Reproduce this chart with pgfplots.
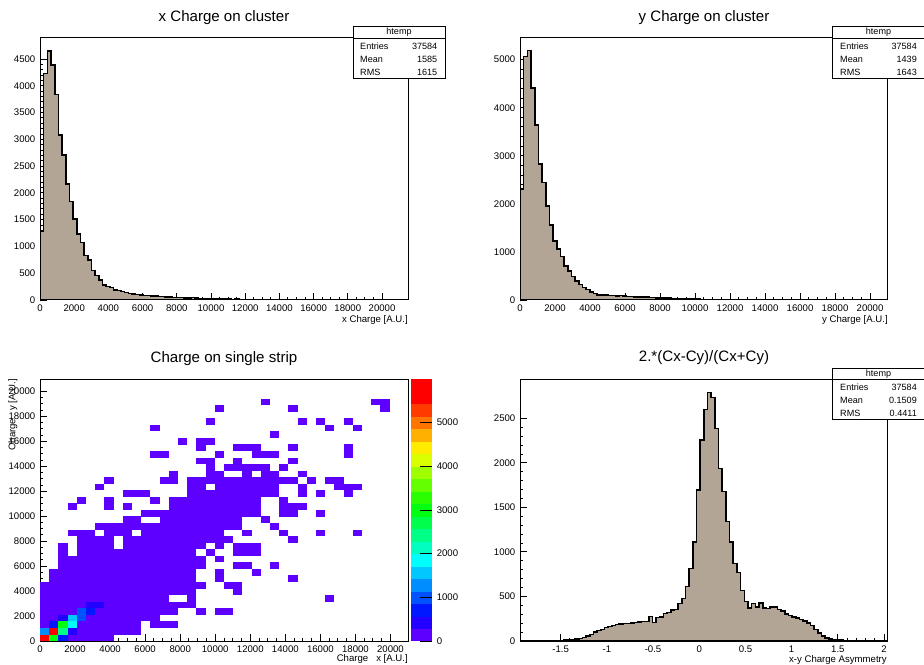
\documentclass[border=0pt]{standalone}
\usepackage{fontspec}
\setmainfont{Liberation Sans}
\usepackage{pgfplots}
\pgfplotsset{compat=1.18}
\definecolor{histfill}{RGB}{179,165,149}
\pgfdeclareplotmark{cell}{\pgfpathrectangle{\pgfqpoint{-3.5pt}{-2.5pt}}{\pgfqpoint{7pt}{5pt}}\pgfusepathqfill}
\newcommand{\tl}{\fontsize{7.2}{8.5}\selectfont}
\newcommand{\st}{\fontsize{6.8}{8}\selectfont}
\newcommand{\ttl}{\fontsize{11.3}{13}\selectfont}
\pgfplotsset{
  colormap={rootpal}{rgb255=(94,0,255) rgb255=(35,0,255) rgb255=(0,24,255) rgb255=(0,82,255) rgb255=(0,141,255) rgb255=(0,200,255) rgb255=(0,255,252) rgb255=(0,255,193) rgb255=(0,255,134) rgb255=(0,255,76) rgb255=(0,255,17) rgb255=(41,255,0) rgb255=(100,255,0) rgb255=(159,255,0) rgb255=(217,255,0) rgb255=(255,235,0) rgb255=(255,176,0) rgb255=(255,117,0) rgb255=(255,59,0) rgb255=(255,0,0) rgb255=(255,0,0)},
  rootaxis/.style={
    scale only axis, anchor=south west,
    axis line style={line width=0.75pt},
    tick align=inside, xtick pos=bottom, ytick pos=left,
    major tick length=5pt, minor tick length=2.5pt,
    tick style={black, line width=0.7pt},
    tick label style={font=\tl},
    /pgf/number format/assume math mode=true,
    /pgf/number format/1000 sep={},
    scaled ticks=false,
  },
  histo/.style={const plot, fill=histfill, draw=black, line width=1.2pt},
}
\begin{document}
\begin{tikzpicture}
\path[use as bounding box] (0,0) rectangle (693pt,498pt);

% ---------- panel 1 : x charge
\begin{axis}[rootaxis, at={(30pt,273pt)}, width=276pt, height=196.5pt,
  xmin=0, xmax=21520, ymin=0, ymax=4892,
  xtick={0,2000,...,20000}, ytick={0,500,...,4500},
  minor x tick num=3, minor y tick num=4]
\addplot[histo] table[row sep=\\, x expr=\thisrow{k}*215.2, y=c] {k c\\0 1276\\1 4232\\2 4649\\3 4388\\4 3840\\5 3081\\6 2707\\7 2166\\8 1842\\9 1512\\10 1232\\11 1077\\12 828\\13 747\\14 548\\15 454\\16 373\\17 280\\18 249\\19 230\\20 187\\21 175\\22 156\\23 137\\24 124\\25 112\\26 106\\27 93\\28 87\\29 81\\30 78\\31 72\\32 66\\33 62\\34 58\\35 54\\36 50\\37 47\\38 44\\39 40\\40 38\\41 45\\42 33\\43 30\\44 28\\45 25\\46 23\\47 21\\48 19\\49 24\\50 16\\51 15\\52 13\\53 18\\54 11\\55 10\\56 9\\57 8\\58 7\\59 6\\60 5\\61 5\\62 4\\63 4\\64 3\\65 3\\66 2\\67 2\\68 2\\69 1\\70 1\\71 0\\100 0\\} \closedcycle;
\end{axis}

% ---------- panel 2 : y charge
\begin{axis}[rootaxis, at={(390pt,273pt)}, width=275.8pt, height=196.5pt,
  xmin=0, xmax=21010, ymin=0, ymax=5450,
  xtick={0,2000,...,20000}, ytick={0,1000,...,5000},
  minor x tick num=3, minor y tick num=4]
\addplot[histo] table[row sep=\\, x expr=\thisrow{k}*210.1, y=c] {k c\\0 2306\\1 5069\\2 5188\\3 4410\\4 3639\\5 2826\\6 2444\\7 1958\\8 1556\\9 1229\\10 1056\\11 903\\12 708\\13 604\\14 486\\15 396\\16 326\\17 257\\18 222\\19 167\\20 139\\21 110\\22 104\\23 100\\24 92\\25 90\\26 88\\27 90\\28 85\\29 72\\30 70\\31 68\\32 66\\33 65\\34 62\\35 50\\36 48\\37 47\\38 45\\39 38\\40 36\\41 35\\42 34\\43 34\\44 33\\45 30\\46 30\\47 28\\48 15\\49 12\\50 10\\51 9\\52 8\\53 7\\54 10\\55 5\\56 4\\57 3\\58 3\\59 2\\60 2\\61 1\\62 0\\100 0\\} \closedcycle;
\end{axis}

% ---------- panel 3 : 2D charge
\begin{axis}[rootaxis, at={(30pt,17.25pt)}, width=276pt, height=196.5pt,
  xmin=0, xmax=21000, ymin=0, ymax=21000,
  xtick={0,2000,...,20000}, ytick={0,2000,...,20000},
  minor x tick num=3, minor y tick num=3,
  colormap name=rootpal, colormap access=piecewise constant,
  point meta min=0, point meta max=6000,
  colorbar,
  colorbar style={
    at={(parent axis.north east)}, anchor=north west, xshift=-6.7pt,
    width=16.2pt,
    ytick={0,1000,...,5000},
    yticklabel pos=right, ytick pos=right,
    tick align=inside, major tick length=8.7pt,
    tick style={black, line width=0.7pt},
    axis line style={draw=none},
    tick label style={font=\tl},
    /pgf/number format/assume math mode=true,
    /pgf/number format/1000 sep={},
    scaled ticks=false,
  }]
\addplot[scatter, only marks, mark=cell, scatter src=explicit] table[row sep=\\, x expr=(\thisrow{i}+0.5)*525, y expr=(\thisrow{j}+0.5)*525, meta=c] {i j c\\
0 0 5750\\1 0 3100\\2 0 700\\3 0 150\\4 0 150\\5 0 150\\6 0 150\\7 0 150\\
0 1 1400\\1 1 5900\\2 1 2500\\3 1 450\\4 1 150\\5 1 150\\6 1 150\\7 1 150\\8 1 150\\9 1 150\\10 1 150\\
0 2 200\\1 2 800\\2 2 3100\\3 2 1900\\4 2 150\\5 2 150\\6 2 150\\7 2 150\\8 2 150\\9 2 150\\10 2 150\\12 2 40\\13 2 40\\14 2 40\\
0 3 150\\1 3 150\\2 3 450\\3 3 1600\\4 3 1000\\5 3 150\\6 3 150\\7 3 150\\8 3 150\\9 3 150\\10 3 150\\11 3 150\\12 3 150\\
0 4 150\\1 4 150\\2 4 150\\3 4 150\\4 4 950\\5 4 700\\6 4 150\\7 4 150\\8 4 150\\9 4 150\\10 4 150\\11 4 150\\12 4 150\\13 4 150\\14 4 150\\17 4 40\\19 4 40\\20 4 40\\
0 5 150\\1 5 150\\2 5 150\\3 5 150\\4 5 150\\5 5 450\\6 5 450\\7 5 100\\8 5 100\\9 5 100\\10 5 100\\11 5 100\\12 5 100\\13 5 100\\14 5 100\\15 5 100\\16 5 100\\
0 6 100\\1 6 100\\2 6 100\\3 6 100\\4 6 100\\5 6 100\\6 6 100\\7 6 100\\8 6 100\\9 6 100\\10 6 100\\11 6 100\\12 6 100\\13 6 100\\16 6 40\\31 6 1\\
0 7 80\\1 7 80\\2 7 80\\3 7 80\\4 7 80\\5 7 80\\6 7 80\\7 7 80\\8 7 80\\9 7 80\\10 7 80\\11 7 80\\12 7 80\\13 7 80\\14 7 80\\15 7 80\\16 7 80\\21 7 2\\
0 8 60\\1 8 60\\2 8 60\\3 8 60\\4 8 60\\5 8 60\\6 8 60\\7 8 60\\8 8 60\\9 8 60\\10 8 60\\11 8 60\\12 8 60\\13 8 60\\14 8 60\\15 8 60\\16 8 60\\17 8 60\\20 8 2\\21 8 2\\
1 9 50\\2 9 50\\3 9 50\\4 9 50\\5 9 50\\6 9 50\\7 9 50\\8 9 50\\9 9 50\\10 9 50\\11 9 50\\12 9 50\\13 9 50\\14 9 50\\15 9 50\\16 9 50\\19 9 2\\27 9 1\\
1 10 40\\2 10 40\\3 10 40\\4 10 40\\5 10 40\\6 10 40\\7 10 40\\8 10 40\\9 10 40\\10 10 40\\11 10 40\\12 10 40\\13 10 40\\14 10 40\\15 10 40\\16 10 40\\19 10 2\\23 10 1\\
2 11 40\\3 11 40\\4 11 40\\5 11 40\\6 11 40\\7 11 40\\8 11 40\\9 11 40\\10 11 40\\11 11 40\\12 11 40\\13 11 40\\14 11 40\\15 11 40\\16 11 40\\17 11 40\\21 11 2\\22 11 2\\25 11 1\\
2 12 30\\3 12 30\\4 12 30\\5 12 30\\6 12 30\\7 12 30\\8 12 30\\9 12 30\\10 12 30\\11 12 30\\12 12 30\\13 12 30\\14 12 30\\15 12 30\\16 12 30\\17 12 30\\19 12 2\\
2 13 5\\4 13 30\\5 13 30\\6 13 30\\7 13 30\\8 13 30\\9 13 30\\10 13 30\\11 13 30\\12 13 30\\13 13 30\\14 13 30\\15 13 30\\16 13 30\\18 13 2\\21 13 2\\22 13 2\\23 13 2\\
2 14 5\\4 14 20\\5 14 20\\6 14 20\\7 14 20\\9 14 30\\10 14 30\\11 14 30\\12 14 30\\13 14 30\\14 14 30\\15 14 30\\16 14 30\\17 14 30\\19 14 2\\21 14 2\\22 14 2\\23 14 2\\
4 15 10\\5 15 10\\6 15 10\\7 15 10\\9 15 20\\10 15 20\\11 15 20\\12 15 20\\13 15 20\\14 15 20\\15 15 20\\16 15 20\\17 15 20\\18 15 20\\19 15 20\\20 15 20\\27 15 1\\
3 16 5\\4 16 5\\5 16 5\\7 16 10\\8 16 10\\9 16 10\\11 16 20\\12 16 20\\13 16 20\\14 16 20\\15 16 20\\16 16 20\\17 16 20\\18 16 20\\19 16 20\\22 16 1\\26 16 1\\30 16 1\\34 16 1\\
6 17 15\\7 17 15\\8 17 15\\9 17 15\\10 17 15\\11 17 15\\12 17 15\\13 17 15\\14 17 15\\15 17 15\\16 17 15\\17 17 15\\18 17 15\\19 17 15\\20 17 15\\21 17 15\\25 17 1\\
9 18 5\\10 18 5\\13 18 15\\14 18 15\\15 18 15\\16 18 15\\17 18 15\\18 18 15\\19 18 15\\20 18 15\\21 18 15\\24 18 1\\
11 19 10\\12 19 10\\13 19 10\\14 19 10\\15 19 10\\16 19 10\\17 19 10\\18 19 10\\19 19 10\\20 19 10\\21 19 10\\22 19 10\\23 19 10\\26 19 2\\27 19 2\\30 19 1\\
3 20 1\\7 20 1\\9 20 1\\14 20 10\\15 20 10\\16 20 10\\17 20 10\\18 20 10\\19 20 10\\20 20 10\\21 20 10\\22 20 10\\23 20 10\\26 20 2\\27 20 2\\28 20 1\\
4 21 1\\7 21 1\\12 21 1\\14 21 8\\15 21 8\\16 21 8\\17 21 8\\18 21 8\\19 21 8\\20 21 8\\21 21 8\\22 21 8\\23 21 8\\26 21 2\\
9 22 2\\10 22 2\\11 22 2\\16 22 8\\17 22 8\\18 22 8\\19 22 8\\20 22 8\\21 22 8\\22 22 8\\23 22 8\\24 22 8\\25 22 8\\28 22 1\\30 22 1\\33 22 1\\
6 23 1\\16 23 5\\17 23 5\\19 23 6\\20 23 6\\21 23 6\\22 23 6\\23 23 6\\24 23 6\\25 23 6\\28 23 1\\32 23 1\\33 23 1\\34 23 1\\
7 24 1\\13 24 1\\14 24 1\\16 24 5\\17 24 5\\18 24 5\\19 24 5\\20 24 5\\21 24 5\\22 24 5\\23 24 5\\24 24 5\\25 24 5\\26 24 5\\27 24 5\\29 24 1\\31 24 1\\32 24 1\\
14 25 1\\18 25 2\\19 25 2\\22 25 2\\24 25 2\\25 25 2\\28 25 1\\
18 26 1\\20 26 2\\21 26 2\\22 26 2\\23 26 2\\24 26 2\\26 26 1\\
17 27 1\\18 27 1\\21 27 1\\27 27 1\\
12 28 1\\13 28 1\\19 28 1\\23 28 1\\24 28 1\\25 28 1\\33 28 1\\
17 29 1\\21 29 1\\22 29 1\\23 29 1\\27 29 1\\33 29 1\\
15 30 1\\17 30 1\\18 30 1\\
25 31 1\\
12 32 1\\31 32 1\\34 32 1\\
18 33 1\\28 33 1\\30 33 1\\33 33 1\\
19 35 1\\27 35 1\\37 35 1\\
24 36 1\\36 36 1\\37 36 1\\};
\end{axis}

% ---------- panel 4 : asymmetry
\begin{axis}[rootaxis, at={(390pt,17.25pt)}, width=275.8pt, height=196.5pt,
  xmin=-1.94, xmax=2.04, ymin=0, ymax=2942,
  xtick={-1.5,-1,-0.5,0,0.5,1,1.5,2}, ytick={0,500,...,2500},
  minor x tick num=4, minor y tick num=4]
\addplot[histo] table[row sep=\\, x expr=-1.94+\thisrow{k}*0.0398, y=c] {k c\\0 0\\10 3\\11 5\\12 8\\13 12\\14 16\\15 22\\16 30\\17 40\\18 55\\19 75\\20 100\\21 120\\22 131\\23 150\\24 161\\25 175\\26 185\\27 188\\28 195\\29 198\\30 200\\31 210\\32 215\\33 217\\34 220\\35 273\\36 210\\37 266\\38 268\\39 311\\40 318\\41 350\\42 355\\43 420\\44 479\\45 610\\46 816\\47 1115\\48 1695\\49 2257\\50 2601\\51 2790\\52 2736\\53 2388\\54 1939\\55 1677\\56 1340\\57 1115\\58 872\\59 767\\60 565\\61 442\\62 370\\63 420\\64 380\\65 430\\66 370\\67 365\\68 380\\69 380\\70 355\\71 335\\72 300\\73 285\\74 270\\75 255\\76 240\\77 225\\78 200\\79 175\\80 130\\81 90\\82 55\\83 35\\84 25\\85 18\\86 12\\87 8\\88 5\\89 3\\90 0\\100 0\\} \closedcycle;
\end{axis}

% ---------- titles, labels, stats boxes (pixel coordinates)
\begin{scope}[x=0.75pt,y=-0.75pt,yshift=498pt]
\node[font=\ttl] at (224,18) {x Charge on cluster};
\node[font=\ttl] at (704,18) {y Charge on cluster};
\node[font=\ttl] at (224,359) {Charge on single strip};
\node[font=\ttl] at (704,358) {2.*(Cx-Cy)/(Cx+Cy)};
\node[font=\tl, anchor=east, inner sep=0pt] at (408,320) {x Charge [A.U.]};
\node[font=\tl, anchor=east, inner sep=0pt] at (888,320) {y Charge [A.U.]};
\node[font=\tl, anchor=east, inner sep=0pt] at (408,659) {Charge\ \ \ x [A.U.]};
\node[font=\tl, anchor=east, inner sep=0pt, rotate=90] at (13,379) {Charge\ \ \ y [A.U.]};
\node[font=\tl, anchor=east, inner sep=0pt] at (887,660) {x-y Charge Asymmetry};
% stats box 1
\draw[line width=0.75pt, fill=white] (353,27) rectangle (445.5,78.5);
\draw[line width=0.75pt] (353,38.5) -- (445.5,38.5);
\node[font=\st] at (399,32.5) {htemp};
\node[font=\st, anchor=west] at (355.5,46.5) {Entries};
\node[font=\st, anchor=east] at (442,46.5) {37584};
\node[font=\st, anchor=west] at (355.5,59.5) {Mean};
\node[font=\st, anchor=east] at (442,59.5) {1585};
\node[font=\st, anchor=west] at (355.5,72.5) {RMS};
\node[font=\st, anchor=east] at (442,72.5) {1615};
% stats box 2
\draw[line width=0.75pt, fill=white] (832.7,27) rectangle (926,78.5);
\draw[line width=0.75pt] (832.7,38.5) -- (926,38.5);
\node[font=\st] at (878.5,32.5) {htemp};
\node[font=\st, anchor=west] at (835.5,46.5) {Entries};
\node[font=\st, anchor=east] at (921.5,46.5) {37584};
\node[font=\st, anchor=west] at (835.5,59.5) {Mean};
\node[font=\st, anchor=east] at (921.5,59.5) {1439};
\node[font=\st, anchor=west] at (835.5,72.5) {RMS};
\node[font=\st, anchor=east] at (921.5,72.5) {1643};
% stats box 4
\draw[line width=0.75pt, fill=white] (832.7,368.3) rectangle (926,419.3);
\draw[line width=0.75pt] (832.7,379.3) -- (926,379.3);
\node[font=\st] at (878.5,374) {htemp};
\node[font=\st, anchor=west] at (835.5,387.3) {Entries};
\node[font=\st, anchor=east] at (921.5,387.3) {37584};
\node[font=\st, anchor=west] at (835.5,400.5) {Mean};
\node[font=\st, anchor=east] at (921.5,400.5) {0.1509};
\node[font=\st, anchor=west] at (835.5,413.5) {RMS};
\node[font=\st, anchor=east] at (921.5,413.5) {0.4411};
\end{scope}
\end{tikzpicture}
\end{document}
